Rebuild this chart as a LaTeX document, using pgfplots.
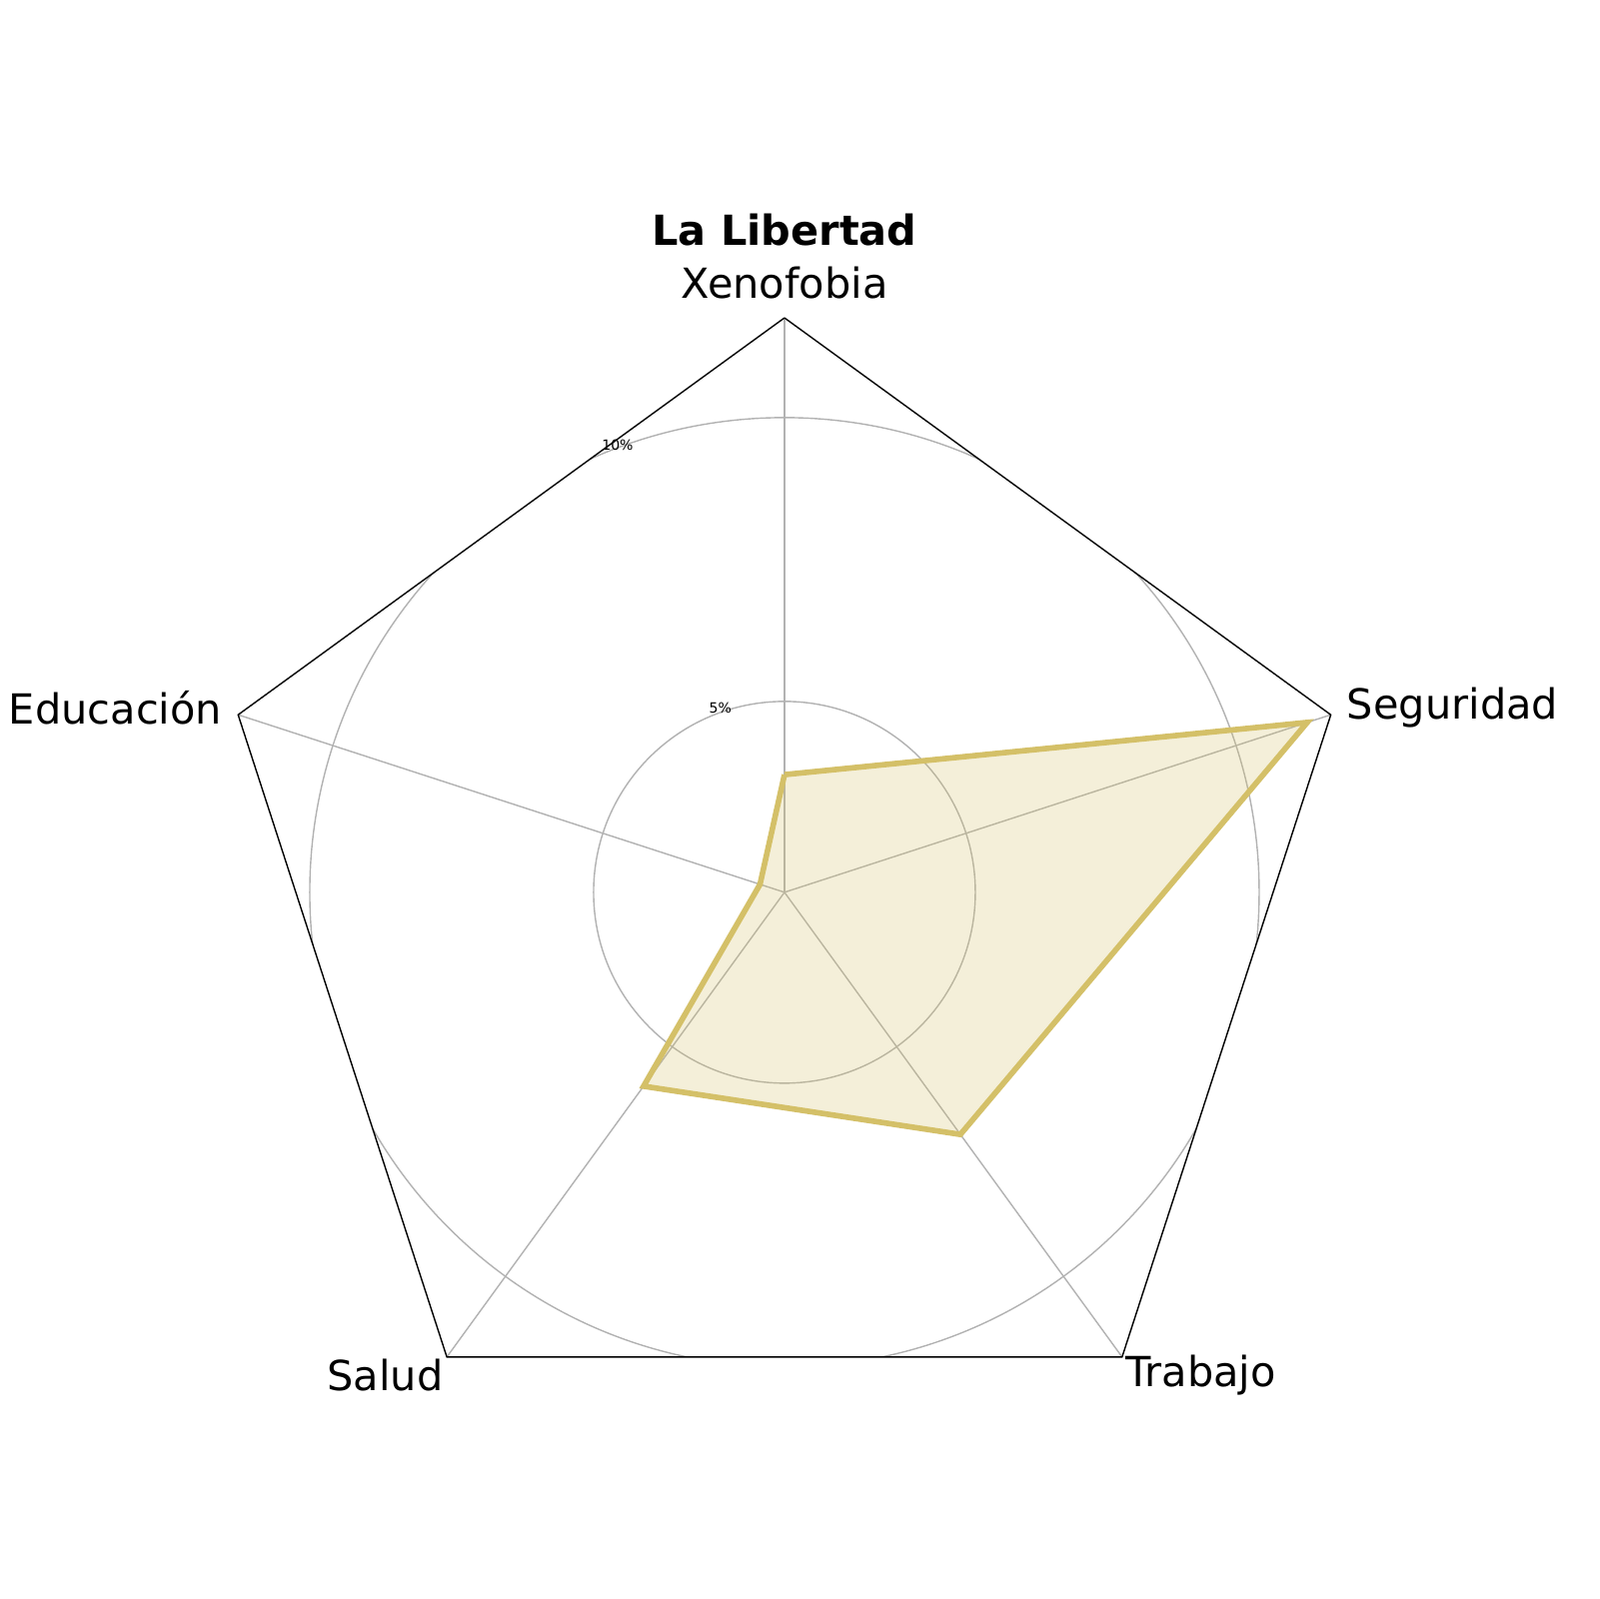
\documentclass[border=0pt]{standalone}
\usepackage{pgfplots}
\pgfplotsset{compat=1.18}
\usepackage{pgfplotstable}
\usepackage{fontspec}
\setmainfont{DejaVu Sans}
\definecolor{radar}{HTML}{D4C068}
\pgfplotstableread{
ang val
90 3.71
18 11.32
-54 6.91
-126 5.86
162 2.09
90 3.71
}\data
\begin{document}
\begin{tikzpicture}
\begin{axis}[name=ax,x=0.568cm,y=0.568cm,xmin=-13.82,xmax=14.35,ymin=-12.45,ymax=15.72,
  hide axis,clip=false]
\begin{scope}
\clip (axis cs:0,10.12) -- (axis cs:9.625,3.127) -- (axis cs:5.948,-8.187) -- (axis cs:-5.948,-8.187) -- (axis cs:-9.625,3.127) -- cycle;
\draw[gray!60,line width=0.4pt] (axis cs:0,0) circle[radius=3.363];
\draw[gray!60,line width=0.4pt] (axis cs:0,0) circle[radius=8.363];
\end{scope}
\foreach \a in {90,18,-54,-126,162}{
  \edef\tmp{\noexpand\draw[gray!60,line width=0.4pt] (axis cs:0,0) -- (axis cs:{10.12*cos(\a)},{10.12*sin(\a)});}\tmp
}
\addplot[black,line width=0.4pt] coordinates {(0,10.12) (9.625,3.127) (5.948,-8.187) (-5.948,-8.187) (-9.625,3.127) (0,10.12)};
\addplot[radar,line width=1.6pt,fill=radar,fill opacity=0.25,draw opacity=1]
  table[x expr={(\thisrow{val}-1.637)*cos(\thisrow{ang})},y expr={(\thisrow{val}-1.637)*sin(\thisrow{ang})}] {\data};
\node[font=\fontsize{4}{5}\selectfont] at (axis cs:-1.13,3.24) {5\%};
\node[font=\fontsize{4}{5}\selectfont] at (axis cs:-2.94,7.87) {10\%};
\node[anchor=south,font=\fontsize{11.8}{13}\selectfont,inner sep=0pt] at (axis cs:0,10.45) {Xenofobia};
\node[anchor=west,font=\fontsize{11.8}{13}\selectfont,inner sep=0pt] at (axis cs:9.9,3.25) {Seguridad};
\node[anchor=east,font=\fontsize{11.8}{13}\selectfont,inner sep=0pt] at (axis cs:-9.9,3.25) {Educación};
\node[anchor=east,font=\fontsize{11.8}{13}\selectfont,inner sep=0pt] at (axis cs:-6.0,-8.5) {Salud};
\node[anchor=west,font=\fontsize{11.8}{13}\selectfont,inner sep=0pt] at (axis cs:6.0,-8.5) {Trabajo};
\node[font=\bfseries\fontsize{11.8}{13}\selectfont] at (axis cs:0,11.67) {La Libertad};
\end{axis}
\pgfresetboundingbox
\path (ax.south west) rectangle (ax.north east);
\end{tikzpicture}
\end{document}
